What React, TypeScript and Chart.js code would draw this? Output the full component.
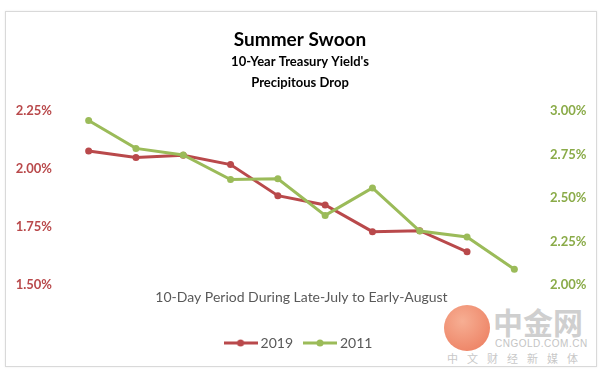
import React, { useEffect, useRef } from "react";
import { Chart, registerables } from "chart.js";

Chart.register(...registerables);

const days = ["Day 1", "Day 2", "Day 3", "Day 4", "Day 5", "Day 6", "Day 7", "Day 8", "Day 9", "Day 10"];
const yields2019 = [2.078, 2.05, 2.059, 2.019, 1.885, 1.845, 1.73, 1.734, 1.643];
const yields2011 = [2.945, 2.785, 2.747, 2.606, 2.61, 2.4, 2.558, 2.31, 2.276, 2.091];
const leftTicks = [1.5, 1.75, 2.0, 2.25];
const rightTicks = [2.0, 2.25, 2.5, 2.75, 3.0];

const RED = "#b9494b";
const GREEN = "#9bbb59";
const FONT = "Lato, 'Open Sans', sans-serif";

function legendImage(color: string): HTMLCanvasElement {
  const c = document.createElement("canvas");
  c.width = 34;
  c.height = 10;
  const ctx = c.getContext("2d")!;
  ctx.strokeStyle = color;
  ctx.lineWidth = 3;
  ctx.beginPath();
  ctx.moveTo(0, 5);
  ctx.lineTo(34, 5);
  ctx.stroke();
  ctx.fillStyle = color;
  ctx.beginPath();
  ctx.arc(17, 5, 3.5, 0, Math.PI * 2);
  ctx.fill();
  return c;
}

export default function App() {
  const ref = useRef<HTMLCanvasElement>(null);
  useEffect(() => {
    if (!ref.current) return;
    const chart = new Chart(ref.current, {
      type: "line",
      data: {
        labels: days,
        datasets: [
          {
            label: "2011",
            data: yields2011,
            yAxisID: "y1",
            borderColor: GREEN,
            backgroundColor: GREEN,
            borderWidth: 3,
            pointRadius: 3.5,
            pointBorderWidth: 0,
            tension: 0,
          },
          {
            label: "2019",
            data: yields2019,
            yAxisID: "y",
            borderColor: RED,
            backgroundColor: RED,
            borderWidth: 3,
            pointRadius: 3.5,
            pointBorderWidth: 0,
            tension: 0,
          },
        ],
      },
      options: {
        responsive: false,
        animation: false,
        layout: { padding: { left: 0, right: 0, top: 0, bottom: 17 } },
        plugins: {
          tooltip: { enabled: false },
          title: {
            display: true,
            text: "Summer Swoon",
            color: "#000",
            font: { family: FONT, size: 19, weight: "bold", lineHeight: 1.2 },
            padding: { top: 28.6, bottom: 0 },
          },
          subtitle: {
            display: true,
            text: ["10-Year Treasury Yield's", "Precipitous Drop"],
            color: "#000",
            font: { family: FONT, size: 13, weight: "bold", lineHeight: 21 / 13 },
            padding: { top: 0, bottom: 17.6 },
          },
          legend: {
            display: true,
            position: "bottom",
            reverse: true,
            labels: {
              color: "#595959",
              font: { family: FONT, size: 14 },
              padding: 14,
              usePointStyle: true,
              pointStyleWidth: 26,
              generateLabels: (ch: any) =>
                ch.data.datasets.map((ds: any, i: number) => ({
                  text: ds.label,
                  fillStyle: ds.borderColor,
                  strokeStyle: ds.borderColor,
                  lineWidth: 0,
                  pointStyle: legendImage(ds.borderColor),
                  hidden: false,
                  datasetIndex: i,
                  fontColor: "#595959",
                })),
            },
          },
        },
        scales: {
          x: {
            type: "category",
            offset: true,
            grid: { display: false, drawTicks: false },
            border: { display: false },
            ticks: { display: false },
            title: {
              display: true,
              text: "10-Day Period During Late-July to Early-August",
              color: "#595959",
              font: { family: FONT, size: 14, lineHeight: 1.2 },
              padding: { top: 4, bottom: 16.2 },
            },
          },
          y: {
            position: "left",
            min: 1.5,
            max: 2.25,
            afterBuildTicks: (s: any) => {
              s.ticks = leftTicks.map((v) => ({ value: v }));
            },
            afterFit: (s: any) => {
              s.width = 65;
            },
            grid: { display: false, drawTicks: false },
            border: { display: false },
            ticks: {
              color: RED,
              padding: 13,
              font: { family: FONT, size: 13, weight: "bold" },
              callback: (v: any) => Number(v).toFixed(2) + "%",
            },
          },
          y1: {
            position: "right",
            min: 2.0,
            max: 3.0,
            afterBuildTicks: (s: any) => {
              s.ticks = rightTicks.map((v) => ({ value: v }));
            },
            afterFit: (s: any) => {
              s.width = 62;
            },
            grid: { display: false, drawTicks: false },
            border: { display: false },
            ticks: {
              color: "#8aab48",
              padding: 12,
              font: { family: FONT, size: 13, weight: "bold" },
              callback: (v: any) => Number(v).toFixed(2) + "%",
            },
          },
        },
      } as any,
    });
    return () => chart.destroy();
  }, []);

  return (
    <div style={{ position: "fixed", left: 0, top: 0, width: 600, height: 377, background: "#fff", overflow: "hidden" }}>
      <div
        style={{
          position: "absolute",
          left: 5,
          top: 11,
          width: 590,
          height: 354,
          border: "1px solid #d9d9d9",
          boxShadow: "0 0 2px rgba(0,0,0,0.08)",
        }}
      />
      <div
        style={{
          position: "absolute",
          left: 444,
          top: 305,
          width: 46,
          height: 46,
          borderRadius: "50%",
          background: "radial-gradient(circle at 40% 35%, #f5a080, #e8623e)",
          opacity: 0.85,
        }}
      />
      <div
        style={{
          position: "absolute",
          left: 493,
          top: 303,
          fontFamily: "'Noto Sans CJK SC', sans-serif",
          fontSize: 30,
          lineHeight: "36px",
          color: "#cfcfcf",
          fontWeight: "bold",
        }}
      >
        中金网
      </div>
      <div
        style={{
          position: "absolute",
          left: 495,
          top: 338,
          fontFamily: "'Liberation Sans', sans-serif",
          fontSize: 10,
          lineHeight: "12px",
          color: "#c4c4c4",
          letterSpacing: 0.5,
        }}
      >
        CNGOLD.COM.CN
      </div>
      <div
        style={{
          position: "absolute",
          left: 447,
          top: 351,
          fontFamily: "'Noto Sans CJK SC', sans-serif",
          fontSize: 11,
          lineHeight: "14px",
          color: "#c8c8c8",
          letterSpacing: 9,
        }}
      >
        中文财经新媒体
      </div>
      <canvas ref={ref} width={600} height={377} style={{ position: "absolute", left: 0, top: 0 }} />
    </div>
  );
}
